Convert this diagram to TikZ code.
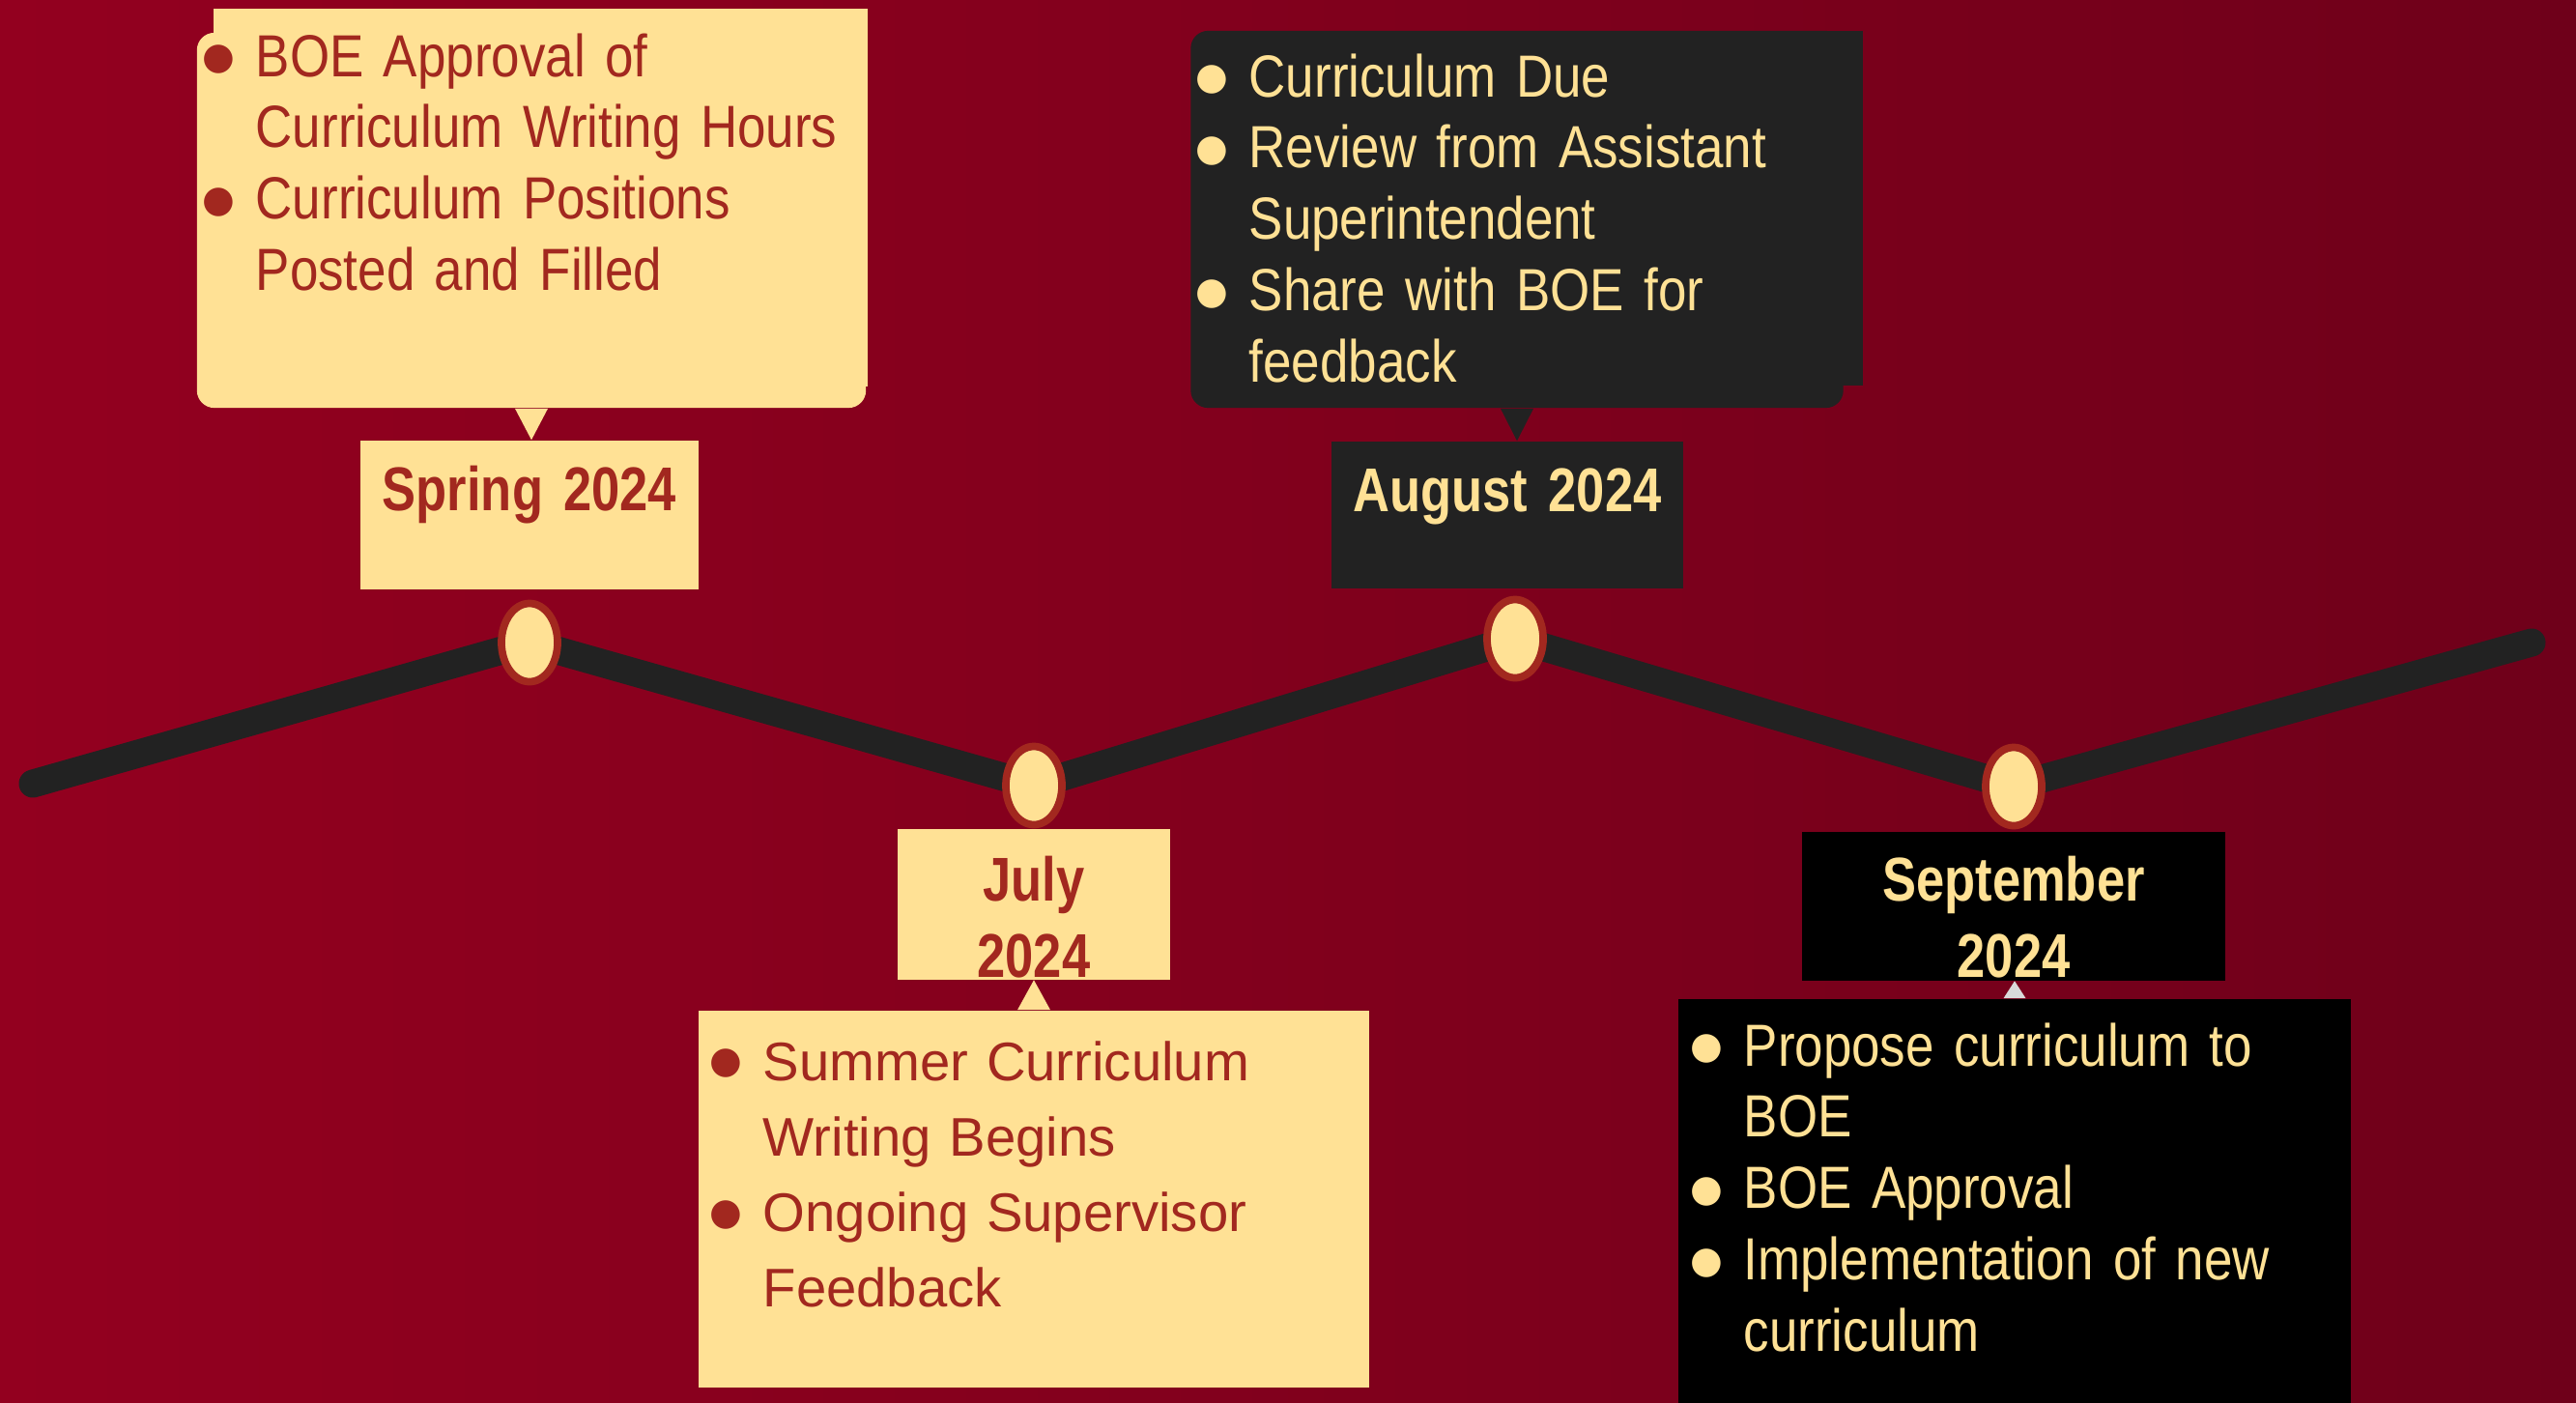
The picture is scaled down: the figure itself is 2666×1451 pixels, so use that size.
\documentclass[tikz,border=0pt]{standalone}
\usepackage{fontspec}
\setmainfont{Liberation Sans}
\newfontfamily\condfont[FakeStretch=0.86, WordSpace=0.8]{Liberation Sans}
\newfontfamily\headfont[FakeStretch=0.82]{Liberation Sans}
\newfontfamily\symfont{DejaVu Sans}
\usepackage{xcolor}
\usepackage{tikz}
\usetikzlibrary{positioning}
\usetikzlibrary{shapes.geometric}
\pgfdeclarelayer{back}
\pgfsetlayers{back,main}

\definecolor{bgleft}{HTML}{93001F}
\definecolor{bgright}{HTML}{6F001A}
\definecolor{cream}{HTML}{FFE195}
\definecolor{brick}{HTML}{A2281F}
\definecolor{coal}{HTML}{222222}
\definecolor{pale}{HTML}{D9D9D9}

\newcommand{\bul}[1]{\noindent\hangindent=0.55cm\hangafter=1\makebox[0.55cm][l]{\raisebox{2pt}{\fontsize{11}{11}\symfont ●}}#1\par}

\begin{document}
\begin{tikzpicture}[x=0.01cm, y=-0.01cm,
  dot/.style={ellipse, draw=brick, line width=2.2pt, fill=cream, minimum width=0.58cm, minimum height=0.81cm, inner sep=0pt},
  timeline/.style={draw=coal, line width=0.29cm, line cap=round, line join=round},
  panel/.style={rectangle, inner sep=0pt},
  bodytext/.style={anchor=base west, inner sep=0pt, text width=6.6cm, font=\condfont\fontsize{17.5}{21}\selectfont},
  headtext/.style={anchor=base, inner sep=0pt, text width=4.2cm, align=center, font=\headfont\bfseries\fontsize{18.2}{22.5}\selectfont}]
 %background
 \useasboundingbox (0,0) rectangle (2666,1451);
 \clip (0,0) rectangle (2666,1451);
 \begin{pgfonlayer}{back}
 \shade[left color=bgleft, right color=bgright] (0,0) rectangle (2666,1451);
 \end{pgfonlayer}

 %dots
 \node[dot] (d1) at (548,665) {};
 \node[dot] (d2) at (1070,813) {};
 \node[dot] (d3) at (1568,661) {};
 \node[dot] (d4) at (2084,814) {};

 %line
 \coordinate (t0) at (34,811);
 \coordinate (t5) at (2620,665);
 \begin{pgfonlayer}{back}
 \path[timeline] (t0) -- (d1.center) -- (d2.center) -- (d3.center) -- (d4.center) -- (t5);
 \end{pgfonlayer}

 %spring
 \fill[cream] (221,9) rectangle (898,400);
 \node[panel, fill=cream, rounded corners=0.18cm, minimum width=6.92cm, minimum height=3.88cm] (c1) at (550,228) {};
 \node[panel, fill=cream, minimum width=3.49cm, minimum height=1.54cm] (lab1) at (548,533) {};
 \fill[cream] ([xshift=-0.17cm]c1.south) -- ([xshift=0.17cm]c1.south) -- (c1.south |- lab1.north) -- cycle;
 \node[headtext, text=brick] (h1) at (548,528) {Spring 2024};
 \node[bodytext, text=brick] (b1) at (209,79) {\bul{BOE Approval of\newline Curriculum Writing Hours}\bul{Curriculum Positions\newline Posted and Filled}};

 %july
 \node[panel, fill=cream, minimum width=2.81cm, minimum height=1.55cm] (lab2) at (1070,936) {};
 \node[panel, fill=cream, minimum width=6.93cm, minimum height=3.90cm] (c2) at (1070,1241) {};
 \fill[cream] ([xshift=-0.17cm]c2.north) -- ([xshift=0.17cm]c2.north) -- (c2.north |- lab2.south) -- cycle;
 \node[headtext, text=brick] (h2) at (1070,932) {July\\2024};
 \node[bodytext, text=brick, font=\fontsize{16}{22.2}\selectfont] (b2) at (734,1118) {\bul{Summer Curriculum\newline Writing Begins}\bul{Ongoing Supervisor\newline Feedback}};

 %august
 \fill[coal] (1250,32) rectangle (1928,399);
 \node[panel, fill=coal, rounded corners=0.18cm, minimum width=6.75cm, minimum height=3.90cm] (c3) at (1570,227) {};
 \node[panel, fill=coal, minimum width=3.64cm, minimum height=1.52cm] (lab3) at (1560,533) {};
 \fill[coal] ([xshift=-0.17cm]c3.south) -- ([xshift=0.17cm]c3.south) -- (c3.south |- lab3.north) -- cycle;
 \node[headtext, text=cream] (h3) at (1560,529) {August 2024};
 \node[bodytext, text=cream] (b3) at (1237,100) {\bul{Curriculum Due}\bul{Review from Assistant\newline Superintendent}\bul{Share with BOE for\newline feedback}};

 %september
 \node[panel, fill=black, minimum width=4.38cm, minimum height=1.53cm] (lab4) at (2084,938) {};
 \node[panel, fill=black, minimum width=6.95cm, minimum height=4.36cm] (c4) at (2085,1252) {};
 \fill[pale] ([xshift=-0.115cm]c4.north) -- ([xshift=0.115cm]c4.north) -- (c4.north |- lab4.south) -- cycle;
 \node[headtext, text=cream] (h4) at (2084,932) {September\\2024};
 \node[bodytext, text=cream] (b4) at (1749,1103) {\bul{Propose curriculum to\newline BOE}\bul{BOE Approval}\bul{Implementation of new\newline curriculum}};
\end{tikzpicture}
\end{document}
